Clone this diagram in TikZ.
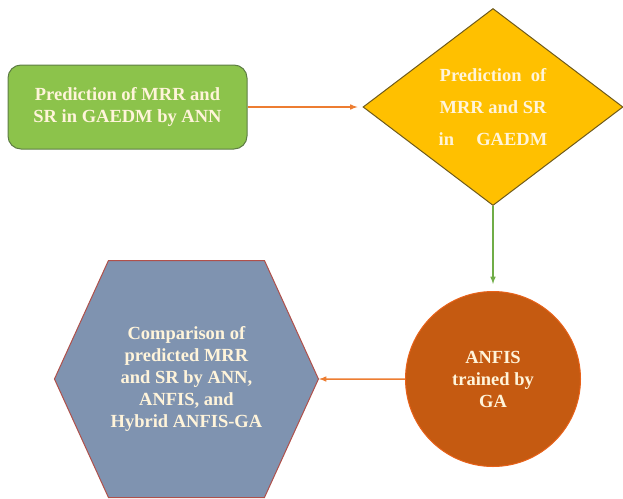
\documentclass[tikz,border=0pt]{standalone}
\usepackage{fontspec}
\setmainfont{Liberation Serif}
\usetikzlibrary{arrows,shapes,positioning}

\definecolor{annfill}{HTML}{8CC34B}
\definecolor{anndraw}{HTML}{5E7D45}
\definecolor{predfill}{HTML}{FFC000}
\definecolor{preddraw}{HTML}{6E5A1C}
\definecolor{anfisfill}{HTML}{C55A11}
\definecolor{anfisdraw}{HTML}{E8621A}
\definecolor{cmpfill}{HTML}{7F93B0}
\definecolor{cmpdraw}{HTML}{B0504A}
\definecolor{linkorange}{HTML}{ED7D31}
\definecolor{linkgreen}{HTML}{70AD47}
\definecolor{labeltext}{HTML}{FFF4DA}

\begin{document}
\begin{tikzpicture}[
            x=1pt, y=-1pt,
            every node/.style={ text=labeltext, align=center, inner sep=0pt,
                font=\bfseries\fontsize{18.5}{22}\selectfont },
            annbox/.style={ draw=anndraw, fill=annfill, line width=1pt, rounded corners=13pt,
                minimum width=239pt, minimum height=84pt },
            predbox/.style={ diamond, draw=preddraw, fill=predfill, line width=1pt,
                minimum width=260pt, minimum height=197pt,
                font=\bfseries\fontsize{18.5}{32}\selectfont },
            anfisbox/.style={ circle, draw=anfisdraw, fill=anfisfill, line width=1pt,
                minimum size=175pt },
            cmpbox/.style={ signal, signal to=east and west, signal pointer angle=131,
                draw=cmpdraw, fill=cmpfill, line width=1pt,
                minimum width=264pt, minimum height=237pt },
            orangelink/.style={ draw=linkorange, line width=1.5pt, -latex },
            greenlink/.style={ draw=linkgreen, line width=1.5pt, -latex },
            node distance=85pt
        ]

        \useasboundingbox (0,0) rectangle (623,498);

        \node[annbox] (ann) at (127.5,107) {Prediction of MRR and\\SR in GAEDM by ANN};
        \node[predbox, right=115pt of ann] (pred)
            {Prediction\ \ of\\MRR and SR\\in\hspace{1.2em}GAEDM};
        \node[anfisbox, below=85pt of pred] (anfis) {ANFIS\\trained by\\GA};
        \node[cmpbox, left=86pt of anfis] (cmp)
            {Comparison of\\predicted MRR\\and SR by ANN,\\ANFIS, and\\Hybrid ANFIS-GA};

        \draw[orangelink, shorten >=5pt] (ann) -- (pred);
        \draw[greenlink, shorten >=7pt] (pred.south) -- (pred.south |- anfis.north);
        \draw[orangelink] (anfis) -- (cmp);
    \end{tikzpicture}
\end{document}
